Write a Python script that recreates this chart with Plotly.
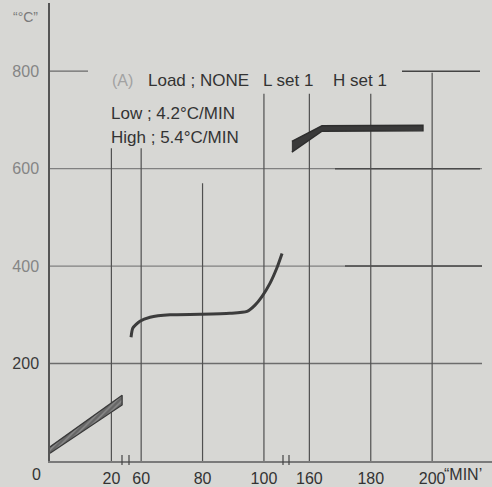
import plotly.graph_objects as go

# ---------------- data ----------------
x_ticks_seg1 = [20]
x_ticks_seg2 = [60, 80, 100]
x_ticks_seg3 = [160, 180, 200]
y_ticks = [200, 400, 600, 800]

# segment 1 : initial heating band (time in MIN, temperature in °C)
seg1_t = [0, 23.5]
seg1_upper = [29, 135]
seg1_lower = [16, 115]

# segment 2 : heating curve
seg2_t = [56.7, 57.3, 59.6, 62.9, 69.4, 79.2, 88.9, 94.5, 97.1, 99.4, 102.0, 104.2, 105.9]
seg2_temp = [254, 273, 287, 295, 300, 301, 303, 307, 320, 338, 365, 396, 426]

# segment 3 : final band
seg3_t = [154.3, 164.1, 197.0]
seg3_upper = [656, 688, 689]
seg3_lower = [634, 677, 678]

# broken x-axis segments (MIN)
seg_ranges = [[0, 24.5], [54.8, 107.2], [152.4, 219.5]]

# ---------------- layout helpers ----------------
W, H = 492, 487
ML, MR, MT, MB = 50, 0, 3, 26
PW, PH = W - ML - MR, H - MT - MB
Y_MAX = 940

def px_x(px):
    return (px - ML) / PW

def px_y(py):
    return (H - MB - py) / PH

widths = [r[1] - r[0] for r in seg_ranges]
tot = sum(widths)
d1 = widths[0] / tot
d2 = (widths[0] + widths[1]) / tot

BG = "#d7d7d4"
FONT = "Liberation Sans, Arial, sans-serif"

fig = go.Figure()

# band 1 (closed polygon)
fig.add_trace(go.Scatter(
    x=seg1_t + seg1_t[::-1], y=seg1_upper + seg1_lower[::-1],
    xaxis="x", yaxis="y", mode="lines", fill="toself",
    fillcolor="#7a7a7a",
    fillpattern=dict(shape="/", fgcolor="#b0b0b0", bgcolor="#666666", size=4, solidity=0.35),
    line=dict(color="#3a3a3a", width=1.3), hoverinfo="skip", showlegend=False))

# curve 2
fig.add_trace(go.Scatter(
    x=seg2_t, y=seg2_temp, xaxis="x2", yaxis="y", mode="lines",
    line=dict(color="#3c3c3c", width=3, shape="spline", smoothing=0.6),
    hoverinfo="skip", showlegend=False))

# band 3
fig.add_trace(go.Scatter(
    x=seg3_t + seg3_t[::-1], y=seg3_upper + seg3_lower[::-1],
    xaxis="x3", yaxis="y", mode="lines", fill="toself",
    fillcolor="#3a3a3a",
    line=dict(color="#2e2e2e", width=1.5), hoverinfo="skip", showlegend=False))

shapes = []
# vertical grid lines: (axis, value, top temperature)
vlines = [("x", 20, 642), ("x2", 60, 642), ("x2", 80, 570),
          ("x2", 100, 754), ("x3", 160, 754), ("x3", 180, 754), ("x3", 200, 797)]
for ax, v, top in vlines:
    shapes.append(dict(type="line", xref=ax, yref="y", x0=v, x1=v, y0=0, y1=top,
                       line=dict(color="#505050", width=1.2), layer="below"))

# horizontal grid lines: (temp, x0 px, x1 px, color, width)
hlines = [(200, 50, 482, "#6c6c6c", 1.5),
          (400, 50, 482, "#808080", 1.2), (400, 345, 482, "#4a4a4a", 1.5),
          (600, 50, 482, "#808080", 1.2), (600, 335, 480, "#4a4a4a", 1.5),
          (800, 50, 88, "#6a6a6a", 1.3), (800, 402, 480, "#444444", 1.5)]
for v, a, b, c, w in hlines:
    shapes.append(dict(type="line", xref="paper", yref="y", x0=px_x(a), x1=px_x(b), y0=v, y1=v,
                       line=dict(color=c, width=w), layer="below"))

# axis-break marks
for bx in [122, 129, 283, 289]:
    shapes.append(dict(type="line", xref="paper", yref="paper", x0=px_x(bx), x1=px_x(bx),
                       y0=px_y(465), y1=px_y(455), line=dict(color="#444", width=1.2)))

def ann(text, xpx, ypx, size=17, color="#333", anchor="left"):
    return dict(text=text, xref="paper", yref="paper", x=px_x(xpx), y=px_y(ypx),
                xanchor=anchor, yanchor="middle", showarrow=False,
                font=dict(family=FONT, size=size, color=color))

annotations = [
    ann("“°C”", 25, 17, 14, "#7a7a7a", "center"),
    ann("(A)", 122, 81, 16, "#a2a2a2", "center"),
    ann("Load ; NONE", 146, 81),
    ann("Low ; 4.2°C/MIN", 109, 114),
    ann("High ; 5.4°C/MIN", 109, 137),
    ann("L set 1", 261, 81),
    ann("H set 1", 331, 81),
    ann("0", 36, 474, 16, "#333", "center"),
    ann("“MIN’", 442, 474, 16, "#333", "left"),
]

xcommon = dict(anchor="y", showgrid=False, zeroline=False, showline=True,
               linecolor="#7a7a7a", linewidth=1.5, ticks="",
               tickfont=dict(family=FONT, size=16, color="#333"), ticklabelstandoff=2)

fig.update_layout(
    width=W, height=H,
    margin=dict(l=ML, r=MR, t=MT, b=MB, pad=0),
    paper_bgcolor=BG, plot_bgcolor=BG,
    showlegend=False,
    xaxis=dict(domain=[0, d1], range=seg_ranges[0], tickvals=x_ticks_seg1, **xcommon),
    xaxis2=dict(domain=[d1, d2], range=seg_ranges[1], tickvals=x_ticks_seg2, **xcommon),
    xaxis3=dict(domain=[d2, 1], range=seg_ranges[2], tickvals=x_ticks_seg3, **xcommon),
    yaxis=dict(anchor="x", domain=[0, 1], range=[0, Y_MAX], tickvals=y_ticks,
               ticktext=["<span style='color:#3a3a3a'>200</span>",
                         "<span style='color:#858585'>400</span>",
                         "<span style='color:#858585'>600</span>",
                         "<span style='color:#858585'>800</span>"],
               showgrid=False, zeroline=False, showline=True, linecolor="#555",
               linewidth=1.5, ticks="", ticklabelstandoff=6,
               tickfont=dict(family=FONT, size=16, color="#444")),
    shapes=shapes,
    annotations=annotations,
)

fig.write_html("out.html")
